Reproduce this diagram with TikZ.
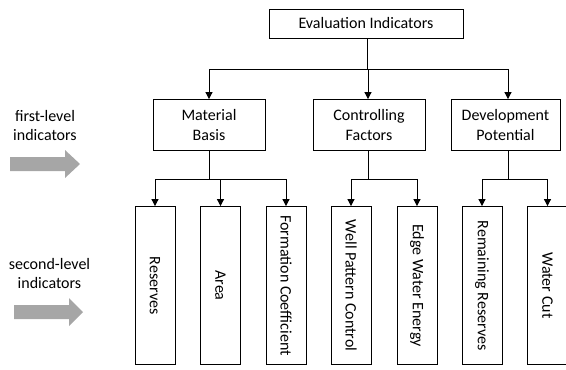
\documentclass[tikz,border=0pt]{standalone}
\usepackage{fontspec}
\setmainfont{Carlito}
\usetikzlibrary{arrows.meta,calc}
\begin{document}
\begin{tikzpicture}[x=1pt,y=-1pt,
  every node/.style={font=\fontsize{16}{19.5}\selectfont, inner sep=0pt},
  box/.style={draw, line width=0.8pt, align=center},
  leaf/.style={box, minimum width=40pt, minimum height=158pt},
  lbl/.style={rotate=-90},
  conn/.style={line width=0.8pt},
  arr/.style={conn, -{Triangle[length=7pt,width=7pt]}},
  bigarrow/.style={fill=black!35, draw=none}
]
\useasboundingbox (0,0) rectangle (566,370);
\clip (0,0) rectangle (566,370);

% top
\node[box, minimum width=194pt, minimum height=29pt] (top) at (366,23.5) {Evaluation Indicators};

% first level
\node[box, minimum width=112pt, minimum height=51pt] (mb) at (209,125) {Material\\Basis};
\node[box, minimum width=112pt, minimum height=51pt] (cf) at (369,125) {Controlling\\Factors};
\node[box, minimum width=109pt, minimum height=51pt] (dp) at (505.5,125) {Development\\Potential};

% second level
\node[leaf] (c1) at (155,285.5) {}; \node[lbl] at (c1.center) {Reserves};
\node[leaf] (c2) at (220.5,285.5) {}; \node[lbl] at (c2.center) {Area};
\node[leaf] (c3) at (286,285.5) {}; \node[lbl] at (c3.center) {Formation Coefficient};
\node[leaf] (c4) at (351,285.5) {}; \node[lbl] at (c4.center) {Well Pattern Control};
\node[leaf] (c5) at (417,285.5) {}; \node[lbl] at (c5.center) {Edge Water Energy};
\node[leaf] (c6) at (482,285.5) {}; \node[lbl] at (c6.center) {Remaining Reserves};
\node[leaf] (c7) at (547.5,285.5) {}; \node[lbl] at (c7.center) {Water Cut};

% connectors top -> first level
\draw[conn] ([xshift=1.5pt]top.south) -- ++(0,31) coordinate (j0);
\draw[arr] (j0) -| (mb.north);
\draw[arr] (j0) -| ([xshift=-1pt]cf.north);
\draw[arr] (j0) -| ([xshift=2.5pt]dp.north);

% first -> second
\draw[conn] (mb.south) -- ++(0,28) coordinate (j1);
\draw[arr] (j1) -| (c1.north);
\draw[arr] (j1) -| (c2.north);
\draw[arr] (j1) -| (c3.north);

\draw[conn] ([xshift=-1pt]cf.south) -- ++(0,28) coordinate (j2);
\draw[arr] (j2) -| (c4.north);
\draw[arr] (j2) -| (c5.north);

\draw[conn] ([xshift=2.5pt]dp.south) -- ++(0,28) coordinate (j3);
\draw[arr] (j3) -| (c6.north);
\draw[arr] (j3) -| (c7.north);

% left labels
\node[align=center] (l1) at (45,125.5) {first-level\\indicators};
\node[align=center] (l2) at (49.5,273.5) {second-level\\indicators};

\path[bigarrow] (10,157) -- (65,157) -- (65,150) -- (80,164) -- (65,178) -- (65,171) -- (10,171) -- cycle;
\path[bigarrow] (14,305) -- (69,305) -- (69,298) -- (83,312) -- (69,326) -- (69,319) -- (14,319) -- cycle;
\end{tikzpicture}
\end{document}
